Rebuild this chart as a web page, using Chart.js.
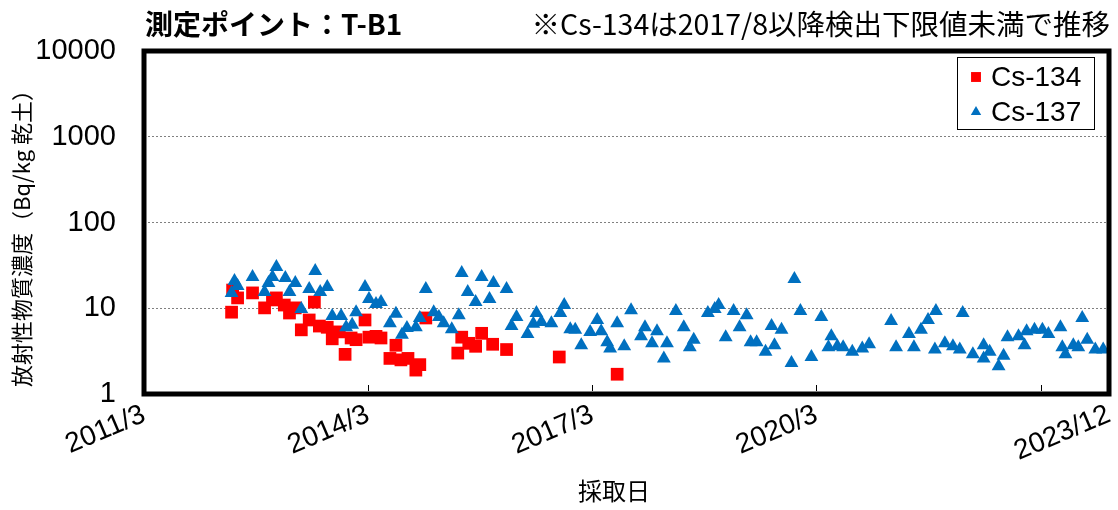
<!DOCTYPE html>
<html lang="ja">
<head>
<meta charset="utf-8">
<title>測定ポイント：T-B1</title>
<script src="https://cdn.jsdelivr.net/npm/chart.js@4.4.1/dist/chart.umd.min.js"></script>
<style>
    html, body { margin: 0; padding: 0; background: #fff; }
    #wrap { position: relative; width: 1118px; height: 510px; }
</style>
</head>
<body>
<div id="wrap"><canvas id="chart" width="1118" height="510"></canvas></div>
<script>
/*  Texts  */
const chartTitle = "測定ポイント：T-B1";
const chartNote = "※Cs-134は2017/8以降検出下限値未満で推移";
const yAxisTitle = "放射性物質濃度（Bq/kg 乾土）";
const xAxisTitle = "採取日";

/*  Axes  */
const yTicks = [1, 10, 100, 1000, 10000];
const xTickDates = ["2011/3", "2014/3", "2017/3", "2020/3", "2023/3"];
const xTickLabels = ["2011/3", "2014/3", "2017/3", "2020/3", ""];
const xStart = "2011/3";
const xEnd = "2024/2";
const xEndLabel = "2023/12";

/*  Cs-134 (Bq/kg)  */
const cs134Dates = [
    "2012/5/3", "2012/5/8", "2012/6/2", "2012/8/14", "2012/10/12", "2012/11/20", "2012/12/9",
    "2013/1/17", "2013/2/12", "2013/3/10", "2013/4/9", "2013/5/17", "2013/6/12", "2013/7/6",
    "2013/8/14", "2013/9/8", "2013/10/12", "2013/11/10", "2013/12/9", "2014/1/3", "2014/2/16",
    "2014/3/5", "2014/4/9", "2014/5/3", "2014/6/16", "2014/7/15", "2014/8/9", "2014/9/13",
    "2014/10/21", "2014/11/10", "2014/12/9", "2015/5/13", "2015/6/2", "2015/7/6", "2015/8/9",
    "2015/9/8", "2015/11/1", "2016/1/8", "2016/9/22", "2017/7/1"];
const cs134Values = [
    9.0, 16.3, 13.2, 15.1, 10.1, 12.5, 13.2,
    10.9, 8.8, 10.1, 5.6, 7.3, 11.8, 6.2,
    6.0, 4.4, 5.3, 2.9, 4.5, 4.3, 7.3,
    4.6, 4.7, 4.5, 2.6, 3.7, 2.5, 2.6,
    1.9, 2.2, 7.7, 3.0, 4.6, 3.9, 3.6,
    5.1, 3.8, 3.3, 2.7, 1.7];

/*  Cs-137 (Bq/kg)  */
const cs137Dates = [
    "2012/5/3", "2012/5/17", "2012/6/2", "2012/8/14", "2012/10/12", "2012/11/1", "2012/11/20",
    "2012/12/9", "2013/1/22", "2013/2/12", "2013/3/10", "2013/4/9", "2013/5/17", "2013/6/16",
    "2013/7/10", "2013/8/14", "2013/9/8", "2013/10/21", "2013/11/15", "2013/12/14", "2014/1/3",
    "2014/2/16", "2014/3/5", "2014/4/9", "2014/5/3", "2014/6/16", "2014/7/15", "2014/8/14",
    "2014/9/8", "2014/10/21", "2014/11/10", "2014/12/9", "2015/1/17", "2015/2/12", "2015/3/5",
    "2015/4/14", "2015/5/18", "2015/6/2", "2015/7/1", "2015/8/9", "2015/9/8", "2015/10/16",
    "2015/11/5", "2016/1/8", "2016/2/2", "2016/2/26", "2016/4/19", "2016/5/17", "2016/6/2",
    "2016/6/26", "2016/8/14", "2016/9/27", "2016/10/16", "2016/11/15", "2016/12/9", "2017/1/8",
    "2017/2/21", "2017/3/25", "2017/4/14", "2017/5/13", "2017/5/27", "2017/7/1", "2017/8/5",
    "2017/9/8", "2017/10/26", "2017/11/15", "2017/12/19", "2018/1/13", "2018/2/16", "2018/3/1",
    "2018/4/14", "2018/5/22", "2018/6/21", "2018/7/10", "2018/9/18", "2018/10/21", "2018/11/10",
    "2018/12/14", "2019/1/22", "2019/2/21", "2019/3/25", "2019/4/14", "2019/5/13", "2019/6/26",
    "2019/7/25", "2019/8/9", "2019/9/13", "2019/11/1", "2019/11/15", "2019/12/14", "2020/2/7",
    "2020/3/25", "2020/4/29", "2020/5/13", "2020/6/12", "2020/7/10", "2020/8/24", "2020/10/12",
    "2020/11/15", "2021/3/1", "2021/3/25", "2021/5/27", "2021/6/21", "2021/7/25", "2021/8/29",
    "2021/10/2", "2021/10/7", "2021/11/20", "2021/12/29", "2022/2/2", "2022/2/16", "2022/4/5",
    "2022/5/27", "2022/5/27", "2022/6/26", "2022/8/9", "2022/9/3", "2022/9/22", "2022/11/15",
    "2022/12/14", "2022/12/24", "2023/2/2", "2023/3/10", "2023/4/9", "2023/6/7", "2023/6/16",
    "2023/7/1", "2023/8/9", "2023/9/3", "2023/9/22", "2023/10/16", "2023/11/25", "2024/1/3"];
const cs137Values = [
    15.1, 20.8, 18.2, 23.2, 15.5, 19.7, 23.2,
    30.3, 22.5, 15.5, 19.7, 9.8, 16.8, 27.2,
    15.5, 17.7, 8.1, 8.1, 6.0, 6.4, 9.0,
    17.7, 12.8, 11.2, 11.8, 6.7, 8.6, 4.9,
    5.9, 6.0, 7.7, 16.8, 9.0, 7.9, 6.7,
    5.7, 8.3, 25.8, 15.5, 11.8, 23.2, 12.8,
    19.7, 16.8, 6.2, 7.9, 5.0, 6.6, 8.8,
    6.9, 6.7, 8.8, 10.9, 5.7, 5.6, 3.7,
    5.3, 7.3, 5.4, 4.0, 3.4, 6.7, 3.6,
    9.5, 4.7, 6.0, 3.9, 5.4, 2.6, 3.9,
    9.3, 6.0, 3.5, 4.3, 8.8, 9.8, 10.9,
    4.6, 9.3, 6.0, 8.3, 4.0, 4.0, 3.1,
    6.2, 3.7, 5.6, 2.3, 21.9, 9.3, 2.7,
    7.9, 3.5, 4.7, 3.6, 3.5, 3.1, 3.4,
    3.8, 7.1, 3.5, 5.0, 3.5, 5.6, 7.3,
    3.3, 9.3, 3.9, 3.6, 3.3, 8.8, 2.9,
    3.7, 2.6, 3.1, 2.1, 2.8, 4.6, 4.7,
    3.7, 5.4, 5.6, 5.6, 5.0, 6.0, 3.5,
    2.9, 3.7, 3.5, 7.7, 4.3, 3.3, 3.3];

const RED = "#ff0000";
const BLUE = "#0070c0";
const JP_FONT = "'Noto Sans CJK JP', 'Noto Sans', sans-serif";
const NUM_FONT = "'Liberation Sans', Arial, sans-serif";

/* months since 2011/3/1 */
function toMonths(s) {
    const [y, m, d] = s.split("/").map(Number);
    return (y - 2011) * 12 + (m - 3) + ((d || 1) - 1) / 30;
}

function toPoints(dates, values) {
    return dates.map((d, i) => ({ x: toMonths(d), y: values[i] }));
}

/*  frame, inner ticks, legend and texts  */
const decorations = {
    id: "decorations",
    afterDraw(chart) {
        const { ctx, chartArea: a } = chart;
        const xs = chart.scales.x;
        ctx.save();

        ctx.strokeStyle = "#000";
        ctx.lineWidth = 5;
        ctx.strokeRect(a.left, a.top, a.right - a.left, a.bottom - a.top);

        // small inward ticks on the date axis
        ctx.lineWidth = 1;
        xTickDates.slice(1).forEach(d => {
            const px = Math.round(xs.getPixelForValue(toMonths(d))) + 0.5;
            ctx.beginPath();
            ctx.moveTo(px, a.bottom - 3);
            ctx.lineTo(px, a.bottom - 9);
            ctx.stroke();
        });

        // legend box
        const lx = 957, ly = 57, lw = 137, lh = 72;
        ctx.fillStyle = "#fff";
        ctx.fillRect(lx, ly, lw, lh);
        ctx.strokeStyle = "#000";
        ctx.strokeRect(lx + 0.5, ly + 0.5, lw, lh);
        const items = [
            { text: "Cs-134", color: RED, style: "rect", r: 7, y: 77 },
            { text: "Cs-137", color: BLUE, style: "triangle", r: 6, y: 112 }
        ];
        ctx.font = "28px " + NUM_FONT;
        ctx.textAlign = "left";
        ctx.textBaseline = "middle";
        items.forEach(it => {
            ctx.fillStyle = it.color;
            Chart.helpers.drawPoint(ctx, { pointStyle: it.style, radius: it.r, rotation: 0, borderWidth: 0 }, 976, it.y);
            ctx.fillStyle = "#000";
            ctx.fillText(it.text, 991, it.y + 1);
        });

        // titles
        ctx.fillStyle = "#000";
        ctx.font = "bold 28px " + JP_FONT;
        ctx.textAlign = "left";
        ctx.fillText(chartTitle, 145, 24);
        ctx.font = "28.5px " + JP_FONT;
        ctx.textAlign = "right";
        ctx.fillText(chartNote, 1110, 24);

        ctx.font = "24px " + JP_FONT;
        ctx.textAlign = "center";
        ctx.fillText(xAxisTitle, 614, 491);

        ctx.translate(22, 233);
        ctx.rotate(-Math.PI / 2);
        ctx.font = "22px " + JP_FONT;
        ctx.fillText(yAxisTitle, 0, 0);
        ctx.restore();
    }
};

new Chart(document.getElementById("chart"), {
    type: "scatter",
    data: {
        datasets: [
            {
                label: "Cs-134",
                data: toPoints(cs134Dates, cs134Values),
                pointStyle: "rect",
                pointRadius: 9,
                backgroundColor: RED,
                borderWidth: 0,
                order: 1
            },
            {
                label: "Cs-137",
                data: toPoints(cs137Dates, cs137Values),
                pointStyle: "triangle",
                pointRadius: 8,
                backgroundColor: BLUE,
                borderWidth: 0,
                order: 0
            }
        ]
    },
    options: {
        responsive: false,
        animation: false,
        layout: { padding: { top: 51, right: 5, left: 0, bottom: 0 } },
        plugins: {
            legend: { display: false },
            tooltip: { enabled: false }
        },
        scales: {
            x: {
                type: "linear",
                min: toMonths(xStart),
                max: toMonths(xEnd),
                grid: { display: false },
                border: { display: false },
                afterBuildTicks: s => {
                    s.ticks = [...xTickDates, xEnd].map(d => ({ value: toMonths(d) }));
                },
                afterFit: s => {
                    s.height = 116;
                    s.paddingLeft = 0;
                    s.paddingRight = 0;
                },
                ticks: {
                    autoSkip: false,
                    minRotation: 23,
                    maxRotation: 23,
                    padding: -4,
                    color: "#000",
                    font: { family: NUM_FONT, size: 28 },
                    callback: (v, i) => [...xTickLabels, xEndLabel][i]
                }
            },
            y: {
                type: "logarithmic",
                min: 1,
                max: 10000,
                afterBuildTicks: s => {
                    s.ticks = yTicks.map(v => ({ value: v }));
                },
                afterFit: s => { s.width = 144; },
                grid: { color: "#808080", lineWidth: 1, drawTicks: false },
                border: { display: false, dash: [2, 2] },
                ticks: {
                    padding: 28,
                    color: "#000",
                    font: { family: NUM_FONT, size: 29 },
                    callback: v => String(v)
                }
            }
        }
    },
    plugins: [decorations]
});
</script>
</body>
</html>
